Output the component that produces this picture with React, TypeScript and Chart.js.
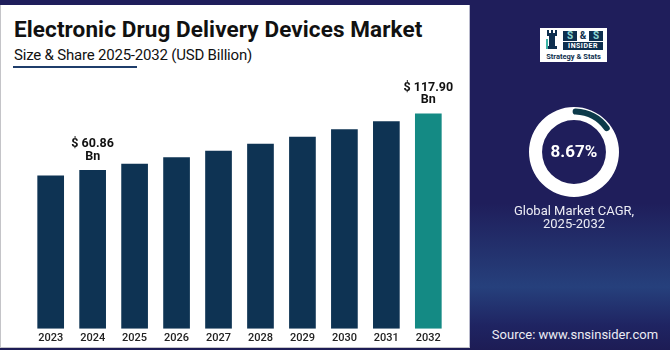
import React, { useEffect, useRef } from "react";
import { Chart, registerables } from "chart.js";

Chart.register(...registerables);

// ---- data ----
const years = ["2023", "2024", "2025", "2026", "2027", "2028", "2029", "2030", "2031", "2032"];
const marketValues = [55.1, 60.86, 67.0, 73.7, 80.2, 87.3, 94.5, 101.9, 110.1, 117.9];
const valueLabels = ["", "$ 60.86", "", "", "", "", "", "", "", "$ 117.90"];
const valueUnit = "Bn";
const axisMin = -99.8;
const axisMax = 151.8;
const cagrText = "8.67%";
const cagrArc = [15, 85];

const titleText = "Electronic Drug Delivery Devices Market";
const subtitleText = "Size & Share 2025-2032 (USD Billion)";
const cagrCaption = ["Global Market CAGR,", "2025-2032"];
const sourceText = "Source: www.snsinsider.com";

const FONT = "Roboto, 'Noto Sans', Arial, sans-serif";
const NAVY = "#1f1e5b";
const BAR = "#0e3353";
const TEAL = "#148a84";

const valueLabelPlugin = {
  id: "valueLabelPlugin",
  afterDatasetsDraw(chart: any) {
    const ctx = chart.ctx;
    const meta = chart.getDatasetMeta(0);
    meta.data.forEach((bar: any, i: number) => {
      const t = valueLabels[i];
      if (!t) return;
      ctx.save();
      ctx.font = `bold 12.5px ${FONT}`;
      ctx.fillStyle = "#111111";
      ctx.textAlign = "center";
      ctx.textBaseline = "middle";
      ctx.fillText(t, bar.x, bar.y - 26);
      ctx.fillText(valueUnit, bar.x, bar.y - 13.5);
      ctx.restore();
    });
  },
};

const ringArcPlugin = {
  id: "ringArcPlugin",
  afterDatasetsDraw(chart: any) {
    const ctx = chart.ctx;
    const arc = chart.getDatasetMeta(0).data[0];
    if (!arc) return;
    const share = cagrArc[0] / (cagrArc[0] + cagrArc[1]);
    const start = -Math.PI / 2 + 0.04;
    const end = -Math.PI / 2 + share * Math.PI * 2;
    ctx.save();
    ctx.strokeStyle = "#0c3a4a";
    ctx.lineWidth = 6;
    ctx.lineCap = "round";
    ctx.beginPath();
    ctx.arc(arc.x, arc.y, arc.outerRadius - 4.5, start, end);
    ctx.stroke();
    ctx.restore();
  },
};

function BarChart() {
  const ref = useRef<HTMLCanvasElement>(null);
  useEffect(() => {
    if (!ref.current) return;
    const chart = new Chart(ref.current, {
      type: "bar",
      data: {
        labels: years,
        datasets: [
          {
            data: marketValues,
            base: axisMin,
            backgroundColor: years.map((_, i) => (i === years.length - 1 ? TEAL : BAR)),
            borderWidth: 0,
            barPercentage: 0.636,
            categoryPercentage: 1,
          } as any,
        ],
      },
      options: {
        animation: false,
        responsive: false,
        events: [],
        layout: { padding: { left: 29.7, right: 19.7, top: 10, bottom: 0 } },
        plugins: { legend: { display: false }, tooltip: { enabled: false } },
        scales: {
          x: {
            grid: { display: false, drawTicks: false },
            border: { display: false },
            ticks: { color: "#222222", font: { family: FONT, size: 11, weight: 500 }, padding: 3 },
          },
          y: {
            display: false,
            min: axisMin,
            max: axisMax,
          },
        },
      },
      plugins: [valueLabelPlugin],
    });
    return () => chart.destroy();
  }, []);
  return (
    <canvas
      ref={ref}
      width={469}
      height={278}
      style={{ position: "absolute", left: 0, top: 70, width: 469, height: 278 }}
    />
  );
}

function RingChart() {
  const ref = useRef<HTMLCanvasElement>(null);
  useEffect(() => {
    if (!ref.current) return;
    const chart = new Chart(ref.current, {
      type: "doughnut",
      data: {
        labels: ["ring"],
        datasets: [{ data: [100], backgroundColor: ["#ffffff"], borderWidth: 0 }],
      },
      options: {
        animation: false,
        responsive: false,
        events: [],
        cutout: "71%",
        plugins: { legend: { display: false }, tooltip: { enabled: false } },
      },
      plugins: [ringArcPlugin],
    });
    return () => chart.destroy();
  }, []);
  return (
    <canvas
      ref={ref}
      width={90}
      height={90}
      style={{ position: "absolute", left: 529, top: 107, width: 90, height: 90 }}
    />
  );
}

function Logo() {
  return (
    <div
      style={{
        position: "absolute",
        left: 540,
        top: 28,
        width: 67,
        height: 34,
        background: "#ffffff",
        fontFamily: FONT,
      }}
    >
      <svg width="16" height="22" style={{ position: "absolute", left: 4, top: 2 }} viewBox="0 0 16 22">
        <rect x="3" y="0" width="2" height="3" fill="#0e2f4f" />
        <rect x="7" y="0" width="2" height="3" fill="#0e2f4f" />
        <rect x="11" y="0" width="2" height="3" fill="#0e2f4f" />
        <rect x="3" y="3" width="10" height="3" fill="#0e2f4f" />
        <rect x="5" y="6" width="6" height="10" fill="#0e2f4f" />
        <rect x="3" y="16" width="10" height="3" fill="#0e2f4f" />
        <rect x="2" y="9" width="2" height="10" fill="#3bb3a6" />
      </svg>
      <div
        style={{
          position: "absolute",
          left: 23,
          top: 3,
          width: 40,
          height: 10,
          display: "flex",
          justifyContent: "space-between",
          alignItems: "center",
          fontSize: 10,
          fontWeight: 700,
          lineHeight: "10px",
        }}
      >
        <span style={{ background: "#0e2f4f", color: "#8fd9d2", width: 14, textAlign: "center" }}>S</span>
        <span style={{ color: "#0e2f4f" }}>&amp;</span>
        <span style={{ background: "#0e2f4f", color: "#8fd9d2", width: 14, textAlign: "center" }}>S</span>
      </div>
      <div
        style={{
          position: "absolute",
          left: 23,
          top: 14,
          width: 40,
          height: 8,
          background: "#0e2f4f",
          color: "#ffffff",
          fontSize: 7,
          fontWeight: 700,
          lineHeight: "8px",
          textAlign: "center",
          letterSpacing: 0.5,
        }}
      >
        INSIDER
      </div>
      <div
        style={{
          position: "absolute",
          left: 0,
          top: 24,
          width: 67,
          textAlign: "center",
          color: "#0e2f4f",
          fontSize: 7.5,
          fontWeight: 700,
          lineHeight: "9px",
          whiteSpace: "nowrap",
        }}
      >
        Strategy &amp; Stats
      </div>
    </div>
  );
}

export default function App() {
  return (
    <div
      style={{
        position: "fixed",
        left: 0,
        top: 0,
        width: 670,
        height: 350,
        overflow: "hidden",
        fontFamily: FONT,
        background: `linear-gradient(to bottom, ${NAVY} 0%, ${NAVY} 58%, #243672 75%, #26407c 82%, #1f2462 93%, #1d1c55 100%)`,
      }}
    >
      <div
        style={{
          position: "absolute",
          left: 0,
          top: 5,
          width: 468,
          height: 342,
          background: "#ffffff",
          borderLeft: "1px solid #c4c4c8",
          borderBottom: "1px solid #c4c4c8",
          borderRight: "1px solid #b8b9cc",
        }}
      />
      <div
        style={{
          position: "absolute",
          left: 14,
          top: 14,
          fontSize: 22.5,
          fontWeight: 700,
          color: "#111111",
          whiteSpace: "nowrap",
          lineHeight: "30px",
          letterSpacing: 0.1,
        }}
      >
        {titleText}
      </div>
      <div
        style={{
          position: "absolute",
          left: 14,
          top: 46,
          fontSize: 15,
          color: "#111111",
          whiteSpace: "nowrap",
          lineHeight: "18px",
          letterSpacing: -0.2,
        }}
      >
        {subtitleText}
      </div>
      <div style={{ position: "absolute", left: 13, top: 66, width: 124, height: 2, background: "#1f3d6b" }} />
      <BarChart />
      <Logo />
      <RingChart />
      <div
        style={{
          position: "absolute",
          left: 524,
          width: 100,
          top: 141,
          textAlign: "center",
          color: "#ffffff",
          fontSize: 17,
          fontWeight: 700,
          lineHeight: "20px",
        }}
      >
        {cagrText}
      </div>
      <div
        style={{
          position: "absolute",
          left: 494,
          width: 160,
          top: 205,
          textAlign: "center",
          color: "#ececf4",
          fontSize: 13,
          lineHeight: "12.5px",
        }}
      >
        <div>{cagrCaption[0]}</div>
        <div>{cagrCaption[1]}</div>
      </div>
      <div
        style={{
          position: "absolute",
          left: 480,
          width: 190,
          top: 327,
          textAlign: "center",
          color: "#ececf4",
          fontSize: 13,
          lineHeight: "16px",
          whiteSpace: "nowrap",
        }}
      >
        {sourceText}
      </div>
    </div>
  );
}
